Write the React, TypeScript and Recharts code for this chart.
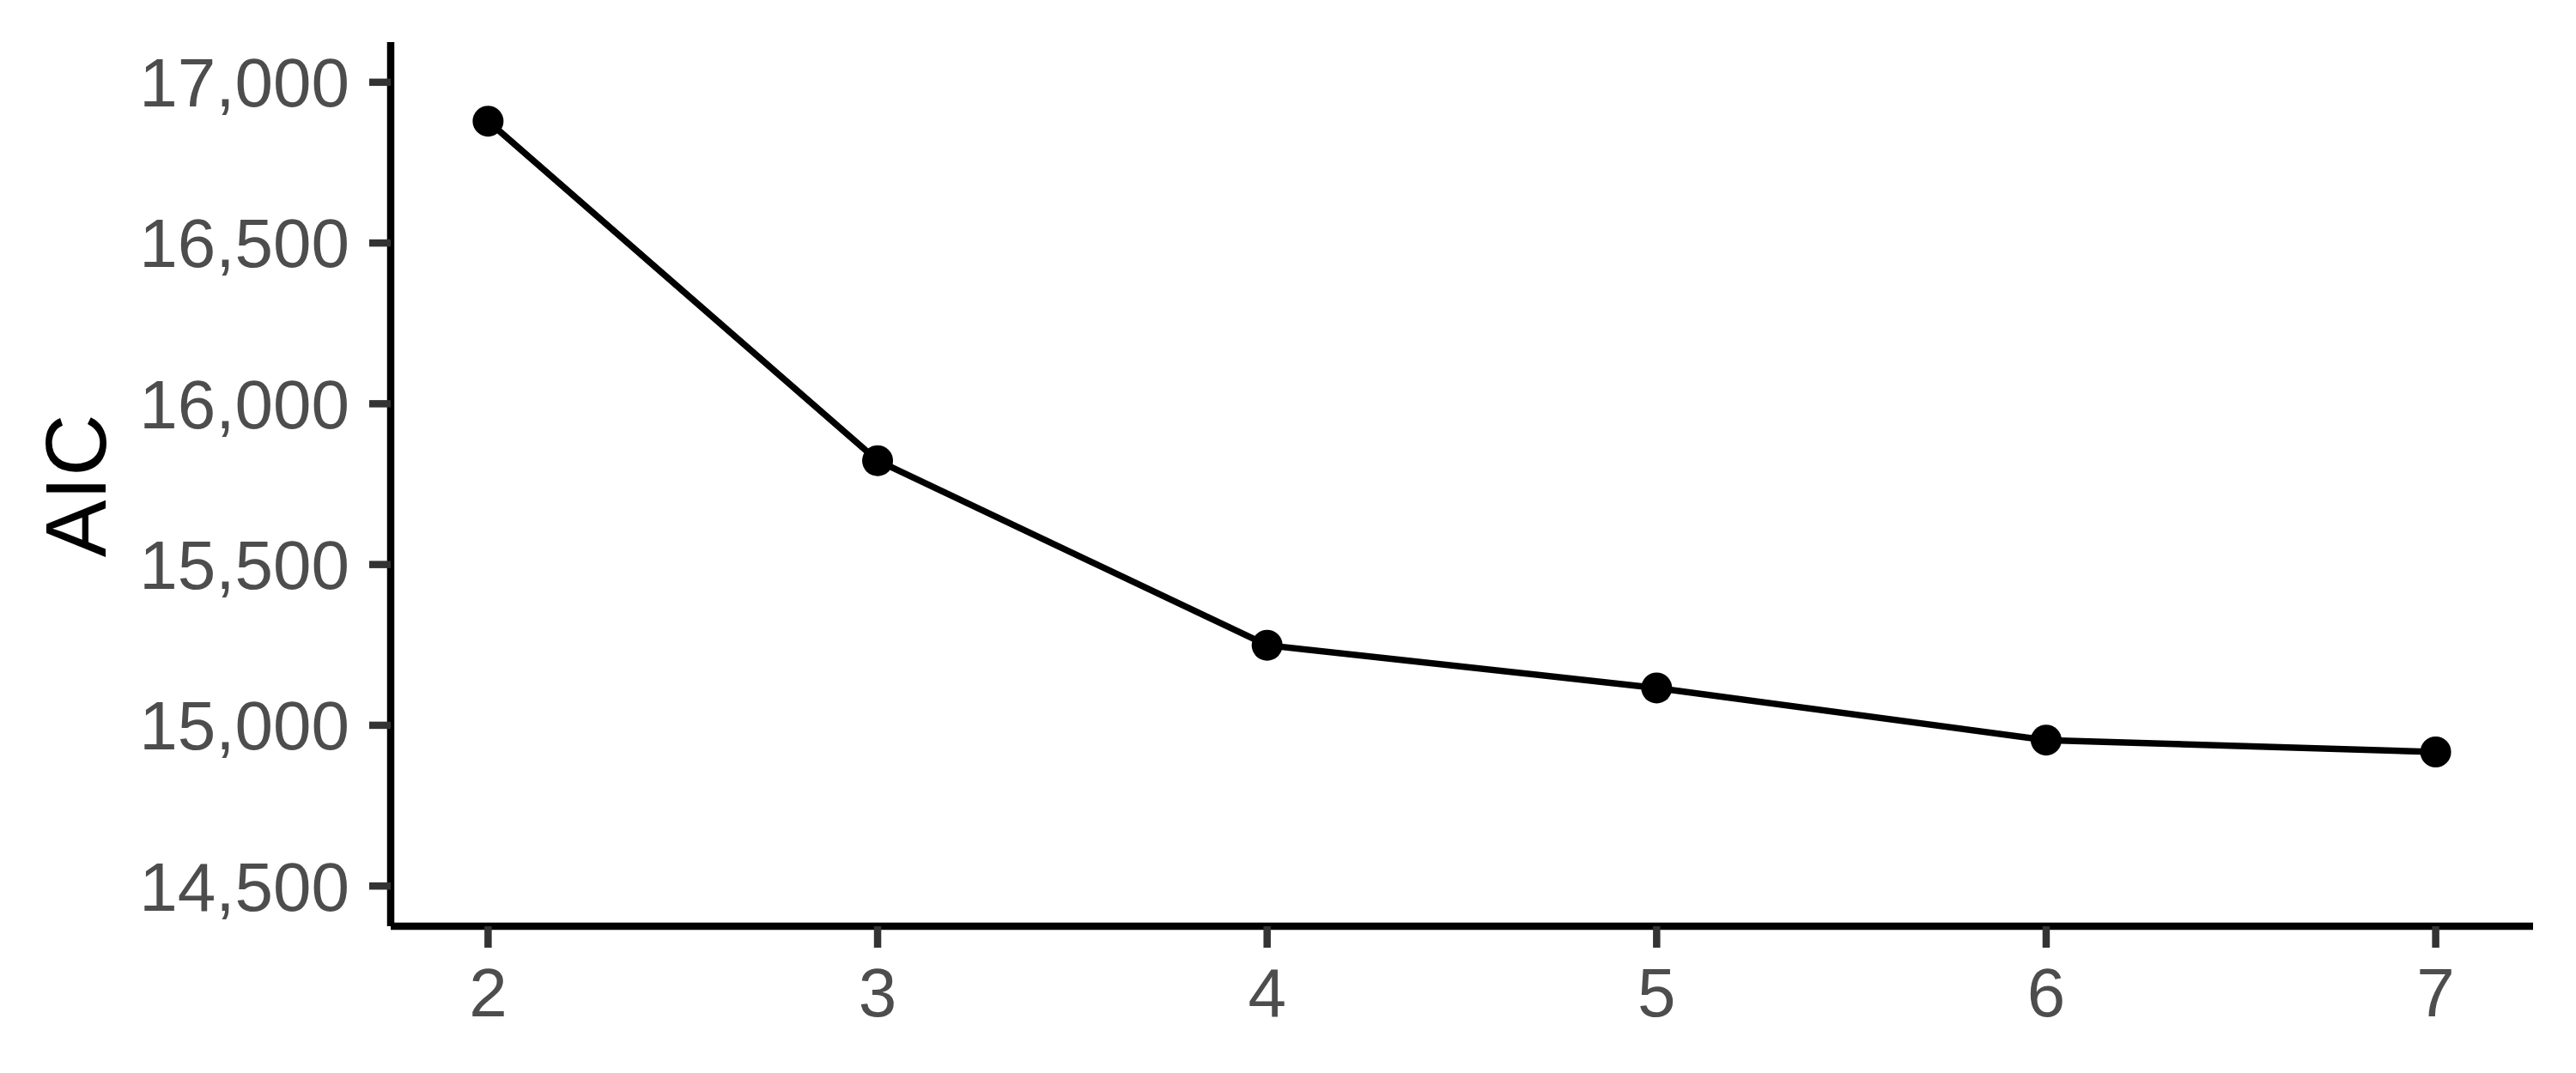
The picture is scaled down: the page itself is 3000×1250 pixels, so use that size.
import React from 'react';
import { LineChart, Line, XAxis, YAxis } from 'recharts';

const clusters = [2, 3, 4, 5, 6, 7];
const aicValues = [16879, 15823, 15249, 15116, 14954, 14917];
const yTicks = [14500, 15000, 15500, 16000, 16500, 17000];
const xTicks = [2, 3, 4, 5, 6, 7];
const yLabel = 'AIC';

const data = clusters.map((k, i) => ({ k, aic: aicValues[i] }));

const FONT = '"Liberation Sans", Arial, sans-serif';

const fmt = (v: number) => v.toLocaleString('en-US');

const YTitle = (props: any) => {
  const vb = props.viewBox || {};
  const cy = (vb.y ?? 49) + (vb.height ?? 1030) / 2 + 2;
  return (
    <text
      transform={`translate(123, ${cy}) rotate(-90)`}
      x={0}
      y={0}
      textAnchor="middle"
      fill="#000000"
      fontSize={100}
      fontFamily={FONT}
    >
      {yLabel}
    </text>
  );
};

export default function App() {
  return (
    <div style={{ position: 'absolute', left: 0, top: 0, width: 3000, height: 1250, background: '#fff' }}>
      <LineChart
        width={3000}
        height={1250}
        data={data}
        margin={{ top: 49, right: 50, bottom: 71, left: 0 }}
      >
        <XAxis
          dataKey="k"
          type="number"
          domain={[1.75, 7.25]}
          ticks={xTicks}
          allowDataOverflow
          height={100}
          axisLine={{ stroke: '#000000', strokeWidth: 8.5 }}
          tickLine={{ stroke: '#333333', strokeWidth: 8.5 }}
          tickSize={25}
          tickMargin={23}
          tick={{ fill: '#4D4D4D', fontSize: 80, fontFamily: FONT }}
        />
        <YAxis
          type="number"
          domain={[14375, 17125]}
          ticks={yTicks}
          allowDataOverflow
          width={455}
          axisLine={{ stroke: '#000000', strokeWidth: 8.5 }}
          tickLine={{ stroke: '#333333', strokeWidth: 8.5 }}
          tickSize={25}
          tickMargin={23}
          tickFormatter={fmt}
          tick={{ fill: '#4D4D4D', fontSize: 80, fontFamily: FONT }}
          label={<YTitle />}
        />
        <Line
          type="linear"
          dataKey="aic"
          stroke="#000000"
          strokeWidth={7.5}
          dot={{ r: 18, fill: '#000000', stroke: 'none' }}
          activeDot={false}
          isAnimationActive={false}
        />
      </LineChart>
    </div>
  );
}
